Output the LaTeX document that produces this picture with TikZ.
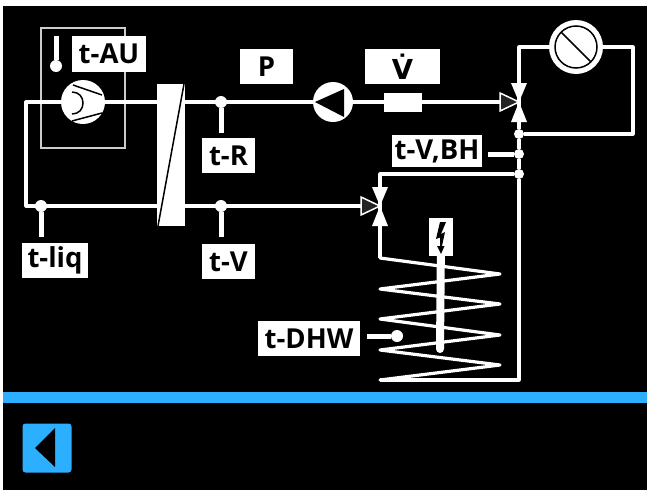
\documentclass[tikz,border=0pt]{standalone}
\usepackage{fontspec}
\setmainfont{Open Sans}
\newfontfamily\accentfont{DejaVu Sans}
\usetikzlibrary{positioning}
\definecolor{barblue}{RGB}{45,175,255}
\definecolor{valvedark}{RGB}{35,35,35}

\begin{document}
\begin{tikzpicture}[
    x=1pt,
    y=-1pt,
    pipe/.style={draw=white, line width=3.2pt, line join=round},
    probe/.style={draw=white, line width=5pt},
    dot/.style={circle, fill=white, inner sep=0pt, minimum size=12pt},
    tag/.style={rectangle, fill=white, text=black, inner sep=0pt, minimum height=35pt, font=\fontsize{27.5}{28}\selectfont\bfseries},
    inlet/.style={draw=white, line width=1.5pt, fill=valvedark, line join=miter},
    wedge/.style={fill=white}
]
\useasboundingbox (0,0) rectangle (647,490);
\fill[white] (0,0) rectangle (647,490);
\fill[black] (3,6) rectangle (647,490);

% Housing
\node[rectangle, draw=white!80!black, line width=1.5pt, inner sep=0pt, minimum width=84pt, minimum height=120pt] (housing) at (83,88) {};

% Junctions
\coordinate (cornerL) at (26,102);
\coordinate (cornerB) at (26,206);
\coordinate (valveA) at (519,102);
\coordinate (valveB) at (380,206);
\coordinate (cornerT) at (519,47);
\coordinate (cornerR) at (633,47);
\coordinate (cornerS) at (633,134);
\coordinate (cornerC) at (380,174);
\coordinate (cornerD) at (519,380);
\coordinate (coilTop) at (380,258);
\coordinate (coilEnd) at (380,380);
\coordinate (pipeA) at (157,102);
\coordinate (pipeB) at (157,206);
\coordinate (pipeC) at (185,102);
\coordinate (pipeD) at (185,206);

% Components
\node[circle, fill=white, inner sep=0pt, minimum size=44pt] (compressor) at (83,102) {};
\node[circle, fill=white, inner sep=0pt, minimum size=40pt] (pump) at (333,102) {};
\node[rectangle, fill=white, inner sep=0pt, minimum width=38pt, minimum height=19pt] (flow) at (403,102) {};
\node[circle, fill=white, inner sep=0pt, minimum size=54pt] (mixer) at (576,47) {};
\node[dot, minimum size=10pt] (dotS) at (519,134) {};
\node[dot, minimum size=10pt] (dotH) at (519,154) {};
\node[dot, minimum size=10pt] (dotC) at (519,174) {};

% Sensors
\node[dot] (dotR) at (221,102) {};
\node[dot] (dotV) at (221,206) {};
\node[dot] (dotL) at (41,206) {};
\node[dot] (dotAU) at (56,66) {};
\node[dot] (dotD) at (397,336) {};
\coordinate (endAU) at (56,36);
\coordinate (endR) at (221,133);
\coordinate (endV) at (221,237);
\coordinate (endL) at (41,237);
\coordinate (endD) at (367,336);
\coordinate (endH) at (488,154);

% Labels
\node[tag, minimum width=74pt, minimum height=36pt] (tAU) at (109,54) {t-AU};
\node[tag, minimum width=53pt, below=5pt of endR, xshift=7.5pt] (tR) {t-R};
\node[tag, minimum width=53pt, below=7pt of endV, xshift=7.5pt] (tV) {t-V};
\node[tag, minimum width=66pt, below=6pt of endL, xshift=14pt] (tL) {t-liq};
\node[tag, minimum width=53pt] (labelP) at (266.5,66.5) {P};
\node[tag, minimum width=75pt] (labelF) at (402.5,66.5) {\accentfont\.{V}};
\node[tag, minimum width=90pt, minimum height=32pt] (tH) at (437,151) {t-V,BH};
\node[tag, minimum width=102pt] (tD) at (309,338.5) {t-DHW};
\node[rectangle, fill=white, inner sep=0pt, minimum width=24pt, minimum height=38pt] (bolt) at (441,237) {};

% Pipes
\draw[pipe] (compressor) -- (cornerL) -- (cornerB) -- (pipeB);
\draw[pipe] (compressor) -- (pipeA);
\draw[pipe] (pipeC) -- (pump);
\draw[pipe] (pump) -- (flow);
\draw[pipe] (flow) -- (valveA);
\draw[pipe] (pipeD) -- (valveB);
\draw[pipe] (valveA) -- (cornerT) -- (mixer);
\draw[pipe] (mixer) -- (cornerR) -- (cornerS) -- (dotS);
\draw[pipe] (valveA) -- (dotS) -- (dotH) -- (dotC) -- (cornerD) -- (coilEnd);
\draw[pipe] (dotC) -- (cornerC) -- (valveB);
\draw[pipe] (valveB) -- (coilTop);
\draw[pipe, line cap=round] (coilTop) -- (500,274) -- (380,289) -- (500,304) -- (380,319) -- (500,335) -- (380,350) -- (500,365) -- (coilEnd);
\draw[probe] (dotAU) -- (endAU);
\draw[probe] (dotR) -- (endR);
\draw[probe] (dotV) -- (endV);
\draw[probe] (dotL) -- (endL);
\draw[probe] (dotD) -- (endD);
\draw[probe] (dotH) -- (endH);
\draw[draw=white, line width=8pt, line cap=round] (bolt) -- (440,349);
\node[rectangle, fill=white, inner sep=0pt, minimum width=24pt, minimum height=38pt] at (bolt) {};

% Heat exchanger
\fill[white] (157,84) rectangle (185,226);
\draw[black, line width=1.5pt] (184,84) -- (158,226);

% Valves
\fill[wedge] (valveA) -- (511,83) -- (527,83) -- cycle;
\fill[wedge] (valveA) -- (511,122) -- (527,122) -- cycle;
\draw[inlet] (valveA) -- (500,93) -- (500,111) -- cycle;
\fill[wedge] (valveB) -- (372,187) -- (388,187) -- cycle;
\fill[wedge] (valveB) -- (372,226) -- (388,226) -- cycle;
\draw[inlet] (valveB) -- (361,197) -- (361,215) -- cycle;

% Symbols
\fill[black] (315,102) -- (344,89) -- (344,117) -- cycle;
\draw[black, line width=1.5pt] (72,92) .. controls (79,92) and (83,97) .. (83,103) .. controls (83,109) and (79,114) .. (72,114);
\draw[black, line width=1.5pt] (73,85) -- (102,95);
\draw[black, line width=1.5pt] (72,121) -- (102,113);
\draw[black, line width=1.5pt] (576,47) circle (21pt);
\draw[black, line width=1.5pt] (561,32) -- (591,62);
\fill[black] (440,222) -- (436,239) -- (440,237.5) -- (440,246) -- (437,246) -- (441,254) -- (444.5,246) -- (442,246) -- (445,232) -- (441,234) -- (446,222) -- cycle;

% Footer
\fill[barblue] (3,392) rectangle (647,403);
\node[rectangle, rounded corners=3pt, fill=barblue, inner sep=0pt, minimum width=49pt, minimum height=49pt] (back) at (47,448) {};
\fill[black] (35,448) -- (55,428) -- (55,467) -- cycle;
\end{tikzpicture}
\end{document}
